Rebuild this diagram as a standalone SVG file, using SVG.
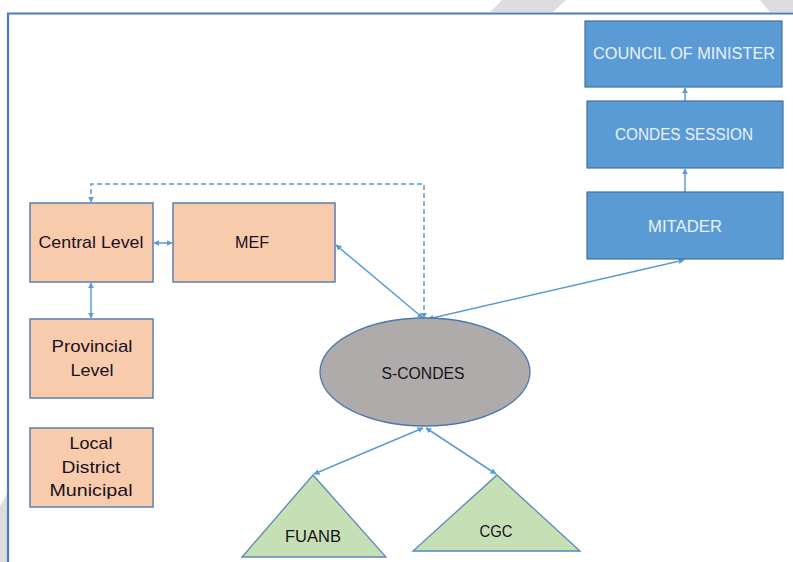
<svg xmlns="http://www.w3.org/2000/svg" width="793" height="562" viewBox="0 0 793 562">
<defs>
<style>
.peach{fill:#F8CBAD;stroke:#5A7FAF;stroke-width:1.5}
.blue{fill:#5B9BD5;stroke:#41719C;stroke-width:1.2}
.green{fill:#C5E0B4;stroke:#5B87BD;stroke-width:1.3}
.ell{fill:#AFABAB;stroke:#4A78AD;stroke-width:1.3}
.dt{font-family:"Liberation Sans",Arial,sans-serif;font-size:17px;fill:#1a1020;text-anchor:middle}
.wt{font-family:"Liberation Sans",Arial,sans-serif;font-size:16px;fill:#EAF2FA;text-anchor:middle}
.con{stroke:#5B9BD5;stroke-width:1.5;fill:none;marker-start:url(#ah);marker-end:url(#ah)}
.one{stroke:#5B9BD5;stroke-width:1.5;fill:none;marker-end:url(#ah)}
.dash{stroke:#5B9BD5;stroke-width:1.5;fill:none;stroke-dasharray:5,3;marker-start:url(#ah);marker-end:url(#ah)}
.deco{fill:#DDDDDD}
</style>
<marker id="ah" viewBox="0 0 10 10" refX="9" refY="5" markerWidth="4" markerHeight="4" orient="auto-start-reverse" markerUnits="strokeWidth">
<path d="M0,0 L10,5 L0,10 z" fill="#5B9BD5"/>
</marker>
</defs>
<rect width="793" height="562" fill="#FFFFFF"/>
<polygon class="deco" points="502,0 566,0 553,12 490,12"/>
<polygon class="deco" points="760,0 793,0 793,12 770,12"/>
<polygon class="deco" points="0,506 7,494 7,562 0,562"/>
<path d="M8,562 L8,13.5 L793,13.5" fill="none" stroke="#4A7EC1" stroke-width="2.2"/>

<g id="connectors">
<path class="dash" d="M424,318 L424,184 L91,184 L91,202"/>
<line class="con" x1="154" y1="243" x2="172" y2="243"/>
<line class="con" x1="91" y1="283" x2="91" y2="318"/>
<line class="con" x1="336" y1="245" x2="423" y2="318"/>
<line class="con" x1="428" y1="319" x2="684" y2="260"/>
<line class="con" x1="423" y1="428" x2="314" y2="474"/>
<line class="con" x1="426" y1="428" x2="496" y2="474"/>
<line class="one" x1="685" y1="192" x2="685" y2="169"/>
<line class="one" x1="685" y1="101" x2="685" y2="88"/>
</g>

<g id="council">
<rect class="blue" x="585" y="21" width="197" height="66"/>
<text class="wt" x="684" y="59" textLength="182" lengthAdjust="spacingAndGlyphs">COUNCIL OF MINISTER</text>
</g>
<g id="condes-session">
<rect class="blue" x="587" y="101" width="196" height="67"/>
<text class="wt" x="684" y="140" textLength="138" lengthAdjust="spacingAndGlyphs">CONDES SESSION</text>
</g>
<g id="mitader">
<rect class="blue" x="587" y="192" width="196" height="67"/>
<text class="wt" x="685" y="232" textLength="74" lengthAdjust="spacingAndGlyphs">MITADER</text>
</g>
<g id="central-level">
<rect class="peach" x="30" y="203" width="123" height="79"/>
<text class="dt" x="91" y="248" textLength="105" lengthAdjust="spacingAndGlyphs">Central Level</text>
</g>
<g id="mef">
<rect class="peach" x="173" y="203" width="162" height="79"/>
<text class="dt" x="252" y="248" textLength="34" lengthAdjust="spacingAndGlyphs">MEF</text>
</g>
<g id="provincial-level">
<rect class="peach" x="30" y="319" width="123" height="79"/>
<text class="dt" x="92" y="352" textLength="81" lengthAdjust="spacingAndGlyphs">Provincial</text>
<text class="dt" x="92" y="376" textLength="43" lengthAdjust="spacingAndGlyphs">Level</text>
</g>
<g id="local-district-municipal">
<rect class="peach" x="30" y="428" width="123" height="79"/>
<text class="dt" x="91" y="449" textLength="43" lengthAdjust="spacingAndGlyphs">Local</text>
<text class="dt" x="91" y="473" textLength="59" lengthAdjust="spacingAndGlyphs">District</text>
<text class="dt" x="91" y="496" textLength="83" lengthAdjust="spacingAndGlyphs">Municipal</text>
</g>
<g id="s-condes">
<ellipse class="ell" cx="425" cy="372" rx="105" ry="54"/>
<text class="dt" x="423" y="379" textLength="83" lengthAdjust="spacingAndGlyphs">S-CONDES</text>
</g>
<g id="fuanb">
<polygon class="green" points="313,475 386,557 242,557"/>
<text class="dt" x="313" y="542" textLength="56" lengthAdjust="spacingAndGlyphs">FUANB</text>
</g>
<g id="cgc">
<polygon class="green" points="497,475 580,551 413,551"/>
<text class="dt" x="496" y="537" textLength="33" lengthAdjust="spacingAndGlyphs">CGC</text>
</g>
</svg>
